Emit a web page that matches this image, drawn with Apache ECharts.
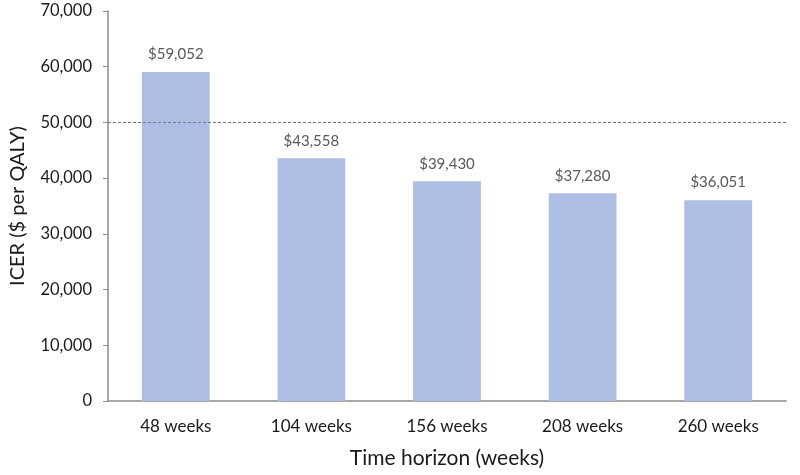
<!DOCTYPE html>
<html><head><meta charset="utf-8">
<script src="https://cdn.jsdelivr.net/npm/echarts@6/dist/echarts.min.js"></script>
<style>html,body{margin:0;padding:0;background:#fff}#c{width:800px;height:475px}</style>
</head><body><div id="c"></div>
<script>
var categories = ['48 weeks', '104 weeks', '156 weeks', '208 weeks', '260 weeks'];
var icerValues = [59052, 43558, 39430, 37280, 36051];
var thresholdValue = 50000;
var yTicks = [0, 10000, 20000, 30000, 40000, 50000, 60000, 70000];

var font = 'Lato, "Open Sans", sans-serif';
var chart = echarts.init(document.getElementById('c'));
chart.setOption({
  animation: false,
  grid: { left: 106, right: 14, top: 11, bottom: 74 },
  xAxis: {
    type: 'category', data: categories,
    name: 'Time horizon (weeks)', nameLocation: 'middle', nameGap: 47,
    nameTextStyle: { fontFamily: font, fontSize: 21, color: '#1a1a1a' },
    axisLine: { lineStyle: { color: '#8c8c8c', width: 1.5 } },
    axisTick: { show: false },
    axisLabel: { fontFamily: font, fontSize: 17, color: '#1a1a1a', margin: 17 }
  },
  yAxis: {
    type: 'value', min: yTicks[0], max: yTicks[yTicks.length - 1], interval: 10000,
    name: 'ICER ($ per QALY)', nameLocation: 'middle', nameGap: 80,
    nameTextStyle: { fontFamily: font, fontSize: 20, color: '#1a1a1a' },
    axisLine: { show: true, lineStyle: { color: '#8c8c8c', width: 1.5 } },
    axisTick: { show: true, length: 5, lineStyle: { color: '#8c8c8c' } },
    splitLine: { show: false },
    axisLabel: { fontFamily: font, fontSize: 16.5, color: '#1a1a1a', margin: 16,
      formatter: function (v) { return v.toLocaleString('en-US'); } }
  },
  series: [{
    type: 'bar', data: icerValues, barWidth: '50%',
    itemStyle: { color: '#adbde4' },
    label: { show: true, position: 'top', distance: 10, fontFamily: font, fontSize: 15, color: '#595959',
      formatter: function (p) { return '$' + p.value.toLocaleString('en-US'); } },
    markLine: {
      silent: true, symbol: 'none', label: { show: false },
      lineStyle: { type: [3, 2], color: '#777', width: 1 },
      data: [{ yAxis: thresholdValue }]
    }
  }]
});
</script></body></html>
